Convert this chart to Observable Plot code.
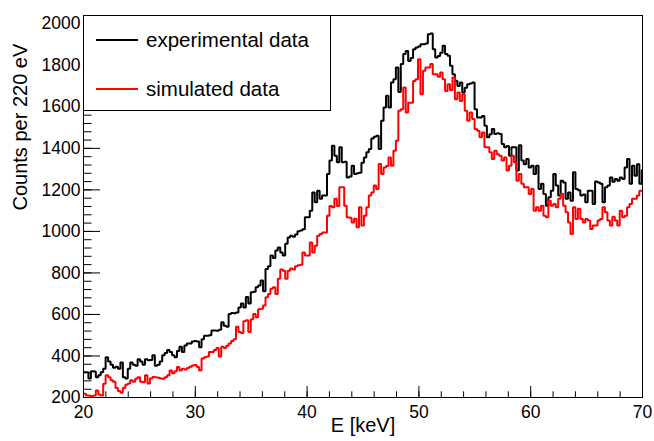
<!DOCTYPE html>
<html>
<head>
<meta charset="utf-8">
<script src="https://cdn.jsdelivr.net/npm/d3@7"></script>
<script src="https://cdn.jsdelivr.net/npm/@observablehq/plot@0.6"></script>
<style>
  body { margin: 0; background: #fff; }
  #wrap { position: relative; width: 654px; height: 441px; font-family: "Liberation Sans", Arial, Helvetica, sans-serif; }
  #legend { position: absolute; left: 83px; top: 15px; width: 248px; height: 96px; box-sizing: border-box; border: 1px solid #000; background: #fff; }
  .row { position: absolute; left: 0; height: 30px; width: 100%; }
  .row svg { position: absolute; left: 12px; top: 14px; }
  .row span { position: absolute; left: 62px; top: 0; line-height: 30px; font-size: 20.5px; color: #000; white-space: nowrap; }
</style>
</head>
<body>
<div id="wrap">
  <div id="chart"></div>
  <div id="legend">
    <div class="row" style="top:9px"><svg width="42" height="2"><line x1="0" y1="1" x2="42" y2="1" stroke="#000" stroke-width="2"/></svg><span>experimental data</span></div>
    <div class="row" style="top:58px"><svg width="42" height="2"><line x1="0" y1="1" x2="42" y2="1" stroke="#ff0000" stroke-width="2"/></svg><span>simulated data</span></div>
  </div>
</div>
<script>
const binStart = 20;
const binWidth = 0.22;

const experimental = [
  322,322,292,327,325,297,307,322,338,394,
  373,358,343,348,338,368,297,292,338,368,
  358,353,384,373,358,384,379,381,404,353,
  358,373,404,414,429,419,404,394,424,445,
  419,450,460,460,470,472,
  470,442,480,498,
  498,500,523,523,521,526,562,546,541,602,
  607,606,610,633,653,633,684,653,707,709,
  731,740,763,712,819,832,884,872,908,923,
  898,884,940,971,979,974,985,1001,1005,1010,
  1068,
  1068,1100,1188,1140,1196,1157,1173,1173,1277,
  1341,1413,1365,1333,1405,1333,1336,1260,1265,1316,
  1277,1280,1283,1331,1356,1381,1397,1448,1456,1461,
  1397,1533,1597,1653,1597,1717,1733,1790,1671,1806,
  1854,1869,1821,1835,1877,1886,1891,
  1902,1902,1905,
  1950,1953,1878,1838,1845,1861,1894,1854,1846,1798,
  1757,1726,1701,1717,1669,1692,1709,1712,1717,1589,
  1549,1549,1556,1509,1453,1468,1493,1469,1473,1469,
  1421,1405,1412,1365,1405,1405,1293,1415,1341,1324,
  1349,1308,
  1316,1277,1316,1204,1229,1180,1124,1164,
  1196,1277,1221,1173,1244,1236,1157,1188,1148,1285,
  1204,1198,1173,1178,1140,1196,1196,1132,1241,1236,
  1229,1140,1213,1221,1260,1239,1252,1244,1260,1252,
  1308,1349,1229,1316,1268,1324,1229,1295
];

const simulated = [
  218,210,208,207,210,234,215,210,266,307,
  297,283,276,246,231,223,246,261,268,283,
  276,290,297,276,274,307,268,292,299,297,
  295,292,290,297,307,330,317,327,347,330,
  338,335,342,348,354,356,
  347,330,388,394,
  398,419,419,429,439,398,445,439,449,460,
  472,480,541,516,511,567,572,516,577,602,
  587,625,628,643,683,699,724,731,699,772,
  816,811,772,811,821,816,832,837,839,898,
  884,
  884,947,899,931,979,987,995,995,1076,
  1122,1116,1157,1122,1213,1213,1124,1068,1066,1043,
  1061,1020,1116,1028,1076,1116,1173,1188,1221,1204,
  1325,1277,1308,1315,1356,1316,1389,1437,1581,1589,
  1693,1573,1620,1620,1725,1733,1829,
  1661,1774,1790,
  1790,1806,1757,1757,1745,1765,1733,1676,1709,1681,
  1741,1637,1669,1628,1661,1581,1533,1573,1541,1493,
  1485,1453,1477,1405,1405,1381,1349,1389,1372,1365,
  1341,1356,1293,1316,1365,1333,1244,1277,1229,1213,
  1213,1180,
  1204,1100,1116,1100,1124,1076,1068,1148,
  1124,1132,1116,1157,1180,1124,1092,1043,987,1116,
  1060,1109,1060,1043,1060,1052,1012,1028,1028,1052,
  1060,1116,1092,1052,1028,1071,1052,1028,1100,1068,
  1076,1116,1132,1157,1157,1173,1196,1196
];

const xMajorTicks = [20, 30, 40, 50, 60, 70];
const yMajorTicks = [200, 400, 600, 800, 1000, 1200, 1400, 1600, 1800, 2000];
const xMinorTicks = d3.range(20, 70.001, 2);
const yMinorTicks = d3.range(200, 2030, 40);

function steps(values) {
  const pts = values.map((v, i) => ({E: binStart + i * binWidth, counts: v}));
  pts.push({E: binStart + values.length * binWidth, counts: values[values.length - 1]});
  return pts;
}

const W = 654, H = 441, ML = 83, MR = 12, MT = 15, MB = 44;
const innerW = W - ML - MR, innerH = H - MT - MB;

const chart = Plot.plot({
  width: W, height: H,
  marginLeft: ML, marginRight: MR, marginTop: MT, marginBottom: MB,
  style: {fontFamily: '"Liberation Sans", Arial, Helvetica, sans-serif', background: "white", color: "black", overflow: "visible"},
  x: {domain: [20, 70]},
  y: {domain: [200, 2040]},
  marks: [
    Plot.line(steps(experimental), {x: "E", y: "counts", curve: "step-after", stroke: "#000", strokeWidth: 2, strokeLinejoin: "miter", strokeLinecap: "butt", clip: true}),
    Plot.line(steps(simulated), {x: "E", y: "counts", curve: "step-after", stroke: "#ff0000", strokeWidth: 2, strokeLinejoin: "miter", strokeLinecap: "butt", clip: true}),
    Plot.tickX(xMajorTicks, {x: d => d, insetTop: innerH - 11, stroke: "#000"}),
    Plot.tickX(xMinorTicks, {x: d => d, insetTop: innerH - 5.7, stroke: "#000"}),
    Plot.tickY(yMajorTicks, {y: d => d, insetRight: innerW - 17, stroke: "#000"}),
    Plot.tickY(yMinorTicks, {y: d => d, insetRight: innerW - 8.5, stroke: "#000"}),
    Plot.axisX(xMajorTicks, {tickSize: 0, tickPadding: 8, fontSize: 17.5, label: null, tickFormat: d => String(d)}),
    Plot.axisY(yMajorTicks, {tickSize: 0, tickPadding: 3, fontSize: 17.5, label: null, tickFormat: d => String(d)}),
    Plot.text(["Counts per 220 eV"], {text: d => d, frameAnchor: "left", rotate: -90, dx: -63, dy: 4, fontSize: 20, fill: "#000"}),
    Plot.text(["E [keV]"], {text: d => d, frameAnchor: "bottom", dy: 34, fontSize: 20, fill: "#000"}),
    Plot.frame({stroke: "#000"})
  ]
});
document.getElementById("chart").appendChild(chart);
</script>
</body>
</html>
